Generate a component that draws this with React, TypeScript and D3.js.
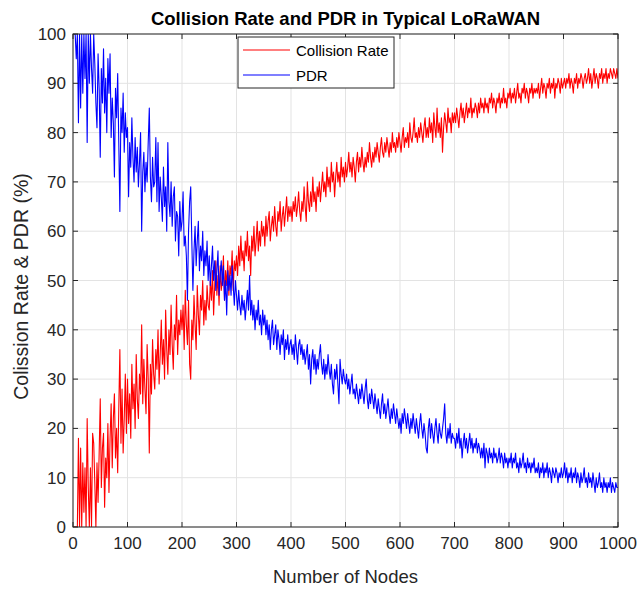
import React from "react";
import * as d3 from "d3";

const nodeStep = 2;
const xTicks = [0, 100, 200, 300, 400, 500, 600, 700, 800, 900, 1000];
const yTicks = [0, 10, 20, 30, 40, 50, 60, 70, 80, 90, 100];

// Collision rate (%) sampled every 2 nodes, 0..1000
const collisionRate = [
  0, 0, 0, 0, 0, 18, 0, 16, 0, 13, 3, 12, 0, 22, 8, 0, 12, 0, 19, 17, 9, 0, 13, 5, 15,
  26, 8, 16, 19, 4, 14, 10, 21, 7, 18, 25, 12, 22, 27, 14, 20, 11, 24, 36, 17, 28, 15, 22, 31, 19,
  30, 21, 27, 18, 33, 24, 29, 20, 35, 26, 22, 31, 27, 41, 25, 34, 28, 23, 37, 30, 15, 33, 27, 38, 31,
  28, 36, 32, 40, 29, 35, 42, 33, 38, 30, 44, 36, 31, 40, 35, 45, 37, 32, 41, 38, 47, 35, 42, 39, 44,
  40, 45, 36, 48, 41, 37, 46, 33, 30, 42, 38, 47, 41, 36, 49, 43, 39, 47, 44, 50, 41, 46, 42, 49, 45,
  44, 50, 46, 52, 43, 49, 54, 47, 51, 45, 53, 48, 50, 55, 46, 52, 49, 54, 47, 53, 51, 56, 48, 54, 52,
  55, 51, 57, 53, 59, 54, 56, 52, 58, 55, 60, 54, 57, 51, 59, 56, 61, 55, 58, 62, 56, 60, 57, 62, 59,
  61, 57, 63, 59, 62, 64, 58, 61, 63, 60, 65, 61, 59, 64, 62, 66, 60, 63, 65, 61, 64, 67, 62, 65, 63,
  65, 62, 66, 64, 67, 63, 65, 68, 64, 62, 66, 64, 69, 65, 62, 70, 66, 64, 68, 65, 71, 66, 68, 64, 69,
  67, 70, 66, 69, 72, 68, 70, 67, 73, 69, 71, 68, 74, 70, 72, 67, 71, 74, 70, 72, 69, 75, 71, 73, 70,
  74, 71, 73, 76, 72, 74, 71, 75, 73, 70, 74, 76, 72, 75, 73, 77, 74, 72, 75, 73, 76, 74, 78, 75, 73,
  76, 74, 77, 75, 78, 76, 74, 77, 79, 76, 75, 78, 76, 79, 77, 75, 78, 76, 80, 77, 78, 76, 79, 77, 80,
  78, 76, 79, 81, 77, 79, 78, 80, 77, 82, 79, 78, 80, 83, 79, 80, 78, 81, 79, 82, 80, 78, 81, 83, 79,
  81, 79, 83, 80, 82, 78, 84, 81, 79, 85, 80, 82, 79, 83, 76, 81, 84, 82, 80, 85, 82, 83, 80, 84, 82,
  84, 82, 85, 83, 81, 84, 86, 83, 85, 82, 84, 86, 83, 85, 84, 87, 83, 85, 84, 86, 85, 83, 86, 84, 87,
  85, 86, 84, 87, 85, 86, 84, 87, 86, 88, 85, 87, 86, 84, 87, 86, 88, 85, 87, 86, 89, 86, 87, 85, 88,
  87, 89, 86, 88, 87, 89, 86, 88, 90, 87, 88, 86, 89, 88, 90, 87, 89, 88, 86, 89, 88, 90, 87, 89, 88,
  89, 88, 90, 87, 89, 91, 88, 90, 89, 87, 90, 89, 91, 88, 90, 89, 91, 87, 90, 89, 91, 90, 88, 91, 89,
  90, 91, 89, 91, 90, 92, 89, 91, 90, 88, 91, 90, 92, 89, 91, 90, 92, 91, 89, 91, 92, 90, 91, 93, 90,
  92, 89, 91, 93, 90, 92, 91, 89, 92, 91, 93, 90, 92, 91, 93, 90, 92, 91, 93, 92, 91, 93, 92, 91, 93,
  91,
];

// Packet delivery ratio (%) sampled every 2 nodes, 0..1000
const pdr = [
  100, 100, 100, 95, 100, 82, 100, 85, 100, 88, 100, 91, 100, 78, 100, 90, 100, 93, 88, 100, 94, 86, 81, 96, 89,
  75, 93, 86, 97, 84, 91, 80, 95, 88, 96, 79, 87, 82, 71, 89, 83, 92, 78, 64, 85, 80, 88, 76, 84, 79,
  81, 67, 78, 73, 83, 75, 70, 79, 72, 77, 69, 74, 80, 60, 72, 76, 68, 74, 70, 78, 85, 71, 66, 75, 69,
  70, 79, 66, 78, 64, 71, 67, 62, 73, 65, 69, 60, 78, 66, 63, 70, 61, 67, 69, 58, 64, 63, 55, 66, 60,
  62, 68, 57, 59, 55, 46, 60, 66, 69, 58, 48, 56, 61, 53, 58, 62, 52, 57, 54, 60, 51, 56, 53, 58, 50,
  55, 49, 53, 57, 50, 54, 48, 52, 56, 47, 51, 54, 49, 53, 46, 50, 43, 52, 48, 51, 47, 53, 49, 45, 50,
  47, 44, 48, 45, 43, 47, 44, 46, 42, 45, 48, 44, 51, 43, 46, 42, 45, 40, 44, 42, 46, 41, 43, 39, 44,
  41, 43, 39, 42, 38, 41, 36, 40, 42, 37, 39, 41, 36, 40, 38, 35, 39, 37, 40, 34, 38, 36, 39, 35, 37,
  38, 35, 37, 34, 39, 36, 33, 37, 38, 35, 37, 34, 36, 33, 35, 37, 32, 35, 29, 34, 36, 32, 35, 31, 34,
  32, 35, 37, 33, 31, 34, 30, 33, 31, 35, 32, 30, 33, 29, 27, 32, 30, 33, 29, 25, 34, 31, 29, 32, 30,
  29, 31, 28, 30, 27, 29, 31, 27, 28, 26, 29, 27, 25, 28, 26, 29, 27, 25, 28, 30, 26, 24, 27, 25, 28,
  26, 24, 27, 25, 23, 26, 24, 22, 25, 27, 23, 25, 22, 24, 26, 23, 21, 24, 22, 25, 23, 21, 24, 22, 20,
  22, 19, 23, 21, 24, 22, 20, 23, 21, 19, 22, 20, 23, 21, 19, 22, 20, 18, 21, 23, 20, 18, 21, 19, 16,
  15, 20, 22, 18, 21, 19, 17, 20, 22, 19, 17, 21, 19, 18, 20, 22, 25, 19, 17, 20, 18, 21, 17, 19, 18,
  18, 16, 19, 17, 20, 16, 18, 14, 17, 19, 16, 18, 15, 17, 19, 16, 18, 15, 17, 16, 18, 15, 17, 16, 14,
  16, 14, 17, 12, 16, 15, 13, 16, 14, 15, 13, 16, 14, 15, 13, 14, 16, 13, 15, 14, 12, 15, 13, 14, 12,
  14, 13, 15, 12, 14, 13, 15, 12, 13, 11, 14, 12, 13, 15, 12, 13, 11, 14, 12, 13, 11, 13, 12, 14, 11,
  12, 11, 13, 10, 12, 11, 13, 10, 12, 11, 13, 10, 12, 11, 9, 12, 11, 10, 12, 11, 9, 11, 10, 12, 10,
  11, 13, 10, 12, 9, 11, 10, 12, 9, 11, 10, 12, 9, 11, 10, 8, 11, 9, 10, 12, 9, 10, 8, 11, 9,
  10, 8, 11, 9, 7, 10, 8, 9, 11, 8, 9, 7, 10, 8, 9, 7, 9, 8, 10, 7, 9, 8, 7, 9, 8,
  8,
];

const W = 637;
const H = 589;
const M = { left: 73, right: 618, top: 34, bottom: 527 };
const FONT = "'Liberation Sans', Arial, Helvetica, sans-serif";
const AX = "#262626";

export default function App() {
  const x = d3.scaleLinear().domain([0, 1000]).range([M.left, M.right]);
  const y = d3.scaleLinear().domain([0, 100]).range([M.bottom, M.top]);
  const line = d3
    .line<number>()
    .x((_, i) => x(i * nodeStep))
    .y((d) => y(d));
  const tickLen = 5;

  return (
    <svg
      width={W}
      height={H}
      style={{ position: "absolute", left: 0, top: 0, background: "#fff" }}
      fontFamily={FONT}
    >
      <defs>
        <clipPath id="plotClip">
          <rect x={M.left} y={M.top} width={M.right - M.left} height={M.bottom - M.top} />
        </clipPath>
      </defs>
      <rect x={0} y={0} width={W} height={H} fill="#fff" />
      <g stroke="#e3e3e3" strokeWidth={1}>
        {xTicks.map((t) => (
          <line key={"gx" + t} x1={x(t)} x2={x(t)} y1={M.top} y2={M.bottom} />
        ))}
        {yTicks.map((t) => (
          <line key={"gy" + t} x1={M.left} x2={M.right} y1={y(t)} y2={y(t)} />
        ))}
      </g>
      <g clipPath="url(#plotClip)" fill="none" strokeWidth={1.1} strokeLinejoin="round">
        <path d={line(collisionRate) || ""} stroke="#ff0000" />
        <path d={line(pdr) || ""} stroke="#0000ff" />
      </g>
      <g stroke={AX} strokeWidth={1}>
        <rect x={M.left} y={M.top} width={M.right - M.left} height={M.bottom - M.top} fill="none" />
        {xTicks.map((t) => (
          <g key={"tx" + t}>
            <line x1={x(t)} x2={x(t)} y1={M.bottom} y2={M.bottom - tickLen} />
            <line x1={x(t)} x2={x(t)} y1={M.top} y2={M.top + tickLen} />
          </g>
        ))}
        {yTicks.map((t) => (
          <g key={"ty" + t}>
            <line x1={M.left} x2={M.left + tickLen} y1={y(t)} y2={y(t)} />
            <line x1={M.right} x2={M.right - tickLen} y1={y(t)} y2={y(t)} />
          </g>
        ))}
      </g>
      <g fill={AX} fontSize={17}>
        {xTicks.map((t) => (
          <text key={"lx" + t} x={x(t)} y={M.bottom + 22} textAnchor="middle">
            {t}
          </text>
        ))}
        {yTicks.map((t) => (
          <text key={"ly" + t} x={M.left - 7} y={y(t) + 6} textAnchor="end">
            {t}
          </text>
        ))}
      </g>
      <text x={(M.left + M.right) / 2} y={583} textAnchor="middle" fontSize={18.5} fill={AX}>
        Number of Nodes
      </text>
      <text
        transform={`translate(28, ${(M.top + M.bottom) / 2 + 6}) rotate(-90)`}
        textAnchor="middle"
        fontSize={19.5}
        fill={AX}
      >
        Colission Rate &amp; PDR (%)
      </text>
      <text
        x={(M.left + M.right) / 2}
        y={25}
        textAnchor="middle"
        fontSize={18.5}
        fontWeight="bold"
        fill="#000"
      >
        Collision Rate and PDR in Typical LoRaWAN
      </text>
      <g>
        <rect x={238} y={37} width={156} height={51} fill="#fff" stroke={AX} strokeWidth={1} />
        <line x1={243} x2={290} y1={50} y2={50} stroke="#ff0000" strokeWidth={1.1} />
        <line x1={243} x2={290} y1={75} y2={75} stroke="#0000ff" strokeWidth={1.1} />
        <text x={296} y={56} fontSize={15} fill="#000">
          Collision Rate
        </text>
        <text x={296} y={81} fontSize={15} fill="#000">
          PDR
        </text>
      </g>
    </svg>
  );
}
